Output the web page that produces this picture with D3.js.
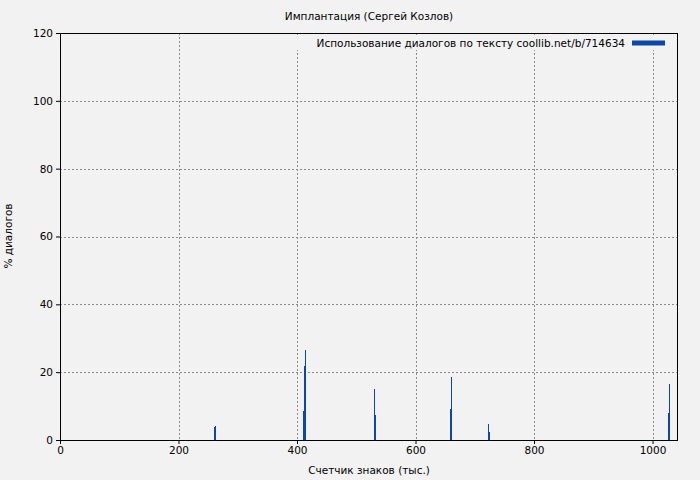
<!DOCTYPE html>
<html><head><meta charset="utf-8">
<script src="https://cdn.jsdelivr.net/npm/d3@7"></script>
<style>body{margin:0;background:#f2f2f2;} text{font-family:"DejaVu Sans",sans-serif;}</style>
</head><body><svg id="c" width="700" height="480"></svg>
<script>
const title = "Имплантация (Сергей Козлов)";
const legendLabel = "Использование диалогов по тексту coollib.net/b/714634";
const xLabel = "Счетчик знаков (тыс.)";
const yLabel = "% диалогов";
const binWidth = 1.7;
const positions = [260, 261.7, 410.5, 412.2, 413.9, 530, 531.7, 658.2, 659.9, 722.4, 724.1, 1026.2, 1027.8];
const values    = [3.8, 4.1, 8.6, 21.9, 26.5, 15.0, 7.4, 9.1, 18.6, 4.7, 2.4, 8.0, 16.5];
const xTicks = [0, 200, 400, 600, 800, 1000];
const yTicks = [0, 20, 40, 60, 80, 100, 120];

const svg = d3.select("#c");
const L = 60, R = 678, T = 33, B = 440;
const x = d3.scaleLinear().domain([0, 1043]).range([L, R]);
const y = d3.scaleLinear().domain([0, 120]).range([B, T]);

svg.append("rect").attr("width",700).attr("height",480).attr("fill","#f2f2f2");

// grid
const g = svg.append("g").attr("stroke","#8c8c8c").attr("stroke-dasharray","2,2").attr("stroke-width",1).attr("shape-rendering","crispEdges");
xTicks.slice(1).forEach(t => g.append("line").attr("x1",Math.round(x(t))+0.5).attr("x2",Math.round(x(t))+0.5).attr("y1",T).attr("y2",B));
yTicks.slice(1,-1).forEach(t => g.append("line").attr("x1",L).attr("x2",R).attr("y1",Math.round(y(t))+0.5).attr("y2",Math.round(y(t))+0.5));

// bars
const data = positions.map((p,i)=>({x:p, v:values[i]}));
svg.append("g").selectAll("rect").data(data).join("rect")
  .attr("x", d => x(d.x)).attr("width", d => x(d.x+binWidth)-x(d.x))
  .attr("y", d => y(d.v)).attr("height", d => y(0)-y(d.v))
  .attr("fill","#0b47a8").attr("shape-rendering","crispEdges");

// frame
svg.append("rect").attr("x",L+0.5).attr("y",T+0.5).attr("width",R-L-1).attr("height",B-T)
  .attr("fill","none").attr("stroke","#000").attr("stroke-width",1).attr("shape-rendering","crispEdges");

// axes
const xa = svg.append("g").attr("transform",`translate(0,${B})`).call(d3.axisBottom(x).tickValues(xTicks).tickSize(4).tickPadding(3).tickFormat(d3.format("d")));
const ya = svg.append("g").attr("transform",`translate(${L},0)`).call(d3.axisLeft(y).tickValues(yTicks).tickSize(4).tickPadding(3).tickFormat(d3.format("d")));
[xa,ya].forEach(a=>{a.select(".domain").remove(); a.selectAll("text").attr("font-size",10.5).attr("fill","#000").attr("font-family","DejaVu Sans"); a.selectAll("line").attr("stroke","#000");});

// legend
svg.append("rect").attr("x",295).attr("y",36).attr("width",377).attr("height",14).attr("fill","#f2f2f2");
svg.append("text").attr("x",625).attr("y",47).attr("text-anchor","end").attr("font-size",10.5).text(legendLabel);
svg.append("line").attr("x1",632).attr("x2",665).attr("y1",43).attr("y2",43).attr("stroke","#0b47a8").attr("stroke-width",5);

// titles
svg.append("text").attr("x",369).attr("y",20).attr("text-anchor","middle").attr("font-size",10.5).text(title);
svg.append("text").attr("x",369).attr("y",474).attr("text-anchor","middle").attr("font-size",10.5).text(xLabel);
svg.append("text").attr("transform","translate(12,236) rotate(-90)").attr("text-anchor","middle").attr("font-size",10.5).text(yLabel);
</script></body></html>
